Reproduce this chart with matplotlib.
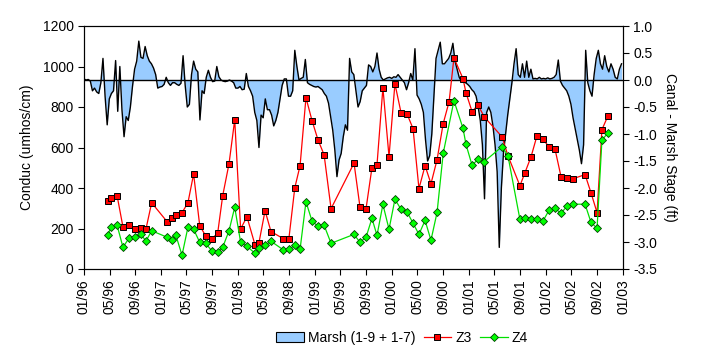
import numpy as np
import pandas as pd
import matplotlib
matplotlib.use("Agg")
import matplotlib.pyplot as plt
import matplotlib.dates as mdates
from matplotlib.patches import Patch
from matplotlib.lines import Line2D

plt.rcParams['font.family'] = ['Liberation Sans', 'DejaVu Sans']
plt.rcParams['axes.unicode_minus'] = False

# sampling dates of the conductivity stations
sample_dates = [
    '1996-04-22', '1996-05-08', '1996-06-06', '1996-07-04', '1996-08-01', '1996-08-30',
    '1996-09-27', '1996-10-21', '1996-11-17', '1997-01-29', '1997-02-21', '1997-03-12',
    '1997-04-10', '1997-05-08', '1997-06-04', '1997-07-03', '1997-07-31', '1997-08-29',
    '1997-09-26', '1997-10-20', '1997-11-19', '1997-12-16', '1998-01-13', '1998-02-12',
    '1998-03-22', '1998-04-10', '1998-05-09', '1998-06-06', '1998-08-03', '1998-08-30',
    '1998-09-27', '1998-10-22', '1998-11-19', '1998-12-18', '1999-01-15', '1999-02-13',
    '1999-03-18', '1999-07-05', '1999-08-02', '1999-08-31', '1999-09-28', '1999-10-22',
    '1999-11-19', '1999-12-18', '2000-01-15', '2000-02-13', '2000-03-12', '2000-04-10',
    '2000-05-08', '2000-06-06', '2000-07-04', '2000-08-02', '2000-08-31', '2000-09-28',
    '2000-10-21', '2000-12-03', '2000-12-17', '2001-01-15', '2001-02-12', '2001-03-13',
    '2001-06-06', '2001-07-04', '2001-08-30', '2001-09-23', '2001-10-22', '2001-11-19',
    '2001-12-17', '2002-01-15', '2002-02-12', '2002-03-13', '2002-04-10', '2002-05-09',
    '2002-07-05', '2002-08-02', '2002-08-31', '2002-09-23', '2002-10-22',
]

z3 = [337, 352, 362, 207, 219, 199, 202, 198, 327, 234,
      253, 268, 278, 327, 469, 214, 164, 150, 176, 362,
      520, 737, 198, 258, 120, 130, 288, 185, 150, 150,
      401, 510, 846, 732, 638, 564, 298, 523, 308, 298,
      500, 515, 895, 555, 915, 772, 767, 693, 397, 510,
      421, 540, 718, 826, 1043, 940, 871, 777, 811, 752,
      653, 560, 411, 476, 555, 658, 640, 604, 594, 456,
      451, 446, 466, 377, 278, 688, 757]

z4 = [166, 206, 216, 107, 152, 157, 171, 138, 189, 157,
      142, 166, 68, 206, 196, 132, 127, 90, 84, 107,
      189, 305, 132, 112, 78, 102, 117, 137, 95, 97,
      117, 97, 332, 236, 211, 216, 127, 171, 132, 157,
      250, 166, 319, 196, 344, 295, 283, 226, 171, 240,
      142, 280, 571, np.nan, 831, 695, 616, 512, 542, 530,
      604, 560, 245, 250, 245, 245, 236, 290, 300, 275,
      310, 320, 320, 231, 201, 636, 673]

# canal - marsh stage (ft), read every 10 days from 1996-01-01
marsh_start = '1996-01-01'
marsh = [
    0.02, 0.0, 0.01, -0.02, -0.2, -0.15, -0.22, -0.25, -0.05, 0.4,
    -0.3, -0.83, -0.35, -0.25, -0.2, 0.36, -0.58, 0.25, -0.55, -1.05,
    -0.68, -0.75, -0.5, -0.12, 0.2, 0.35, 0.72, 0.42, 0.4, 0.62,
    0.45, 0.35, 0.3, 0.22, 0.1, -0.15, -0.13, -0.12, -0.08, 0.05,
    -0.05, -0.1, -0.05,
    -0.05, -0.08, -0.1, -0.06, 0.45, -0.1, -0.5, -0.45, 0.1, 0.35,
    0.2, 0.15, -0.74, -0.2, -0.25, 0.05, 0.18, 0.05, -0.03, -0.02,
    0.25, 0.06, 0.0, -0.02, -0.03, -0.02, 0.0, -0.02, -0.05, -0.15,
    -0.15, -0.12, -0.18, -0.17, 0.12, -0.12, -0.2, -0.3, -0.6, -0.75,
    -1.25, -0.65, -0.7,
    -0.35, -0.55, -0.55, -0.65, -0.85, -0.75, -0.6, -0.35, -0.1, 0.02,
    0.02, -0.3, -0.3, -0.2, 0.55, 0.25, 0.0, 0.03, 0.05, 0.38,
    -0.05, -0.08, -0.1, -0.12, -0.13, -0.12, -0.15, -0.18, -0.25, -0.3,
    -0.43, -0.68, -0.93, -1.3, -1.79, -1.48, -1.36, -1.05, -0.83, -0.93,
    0.4, 0.15, 0.1,
    -0.2, -0.5, -0.4, -0.2, -0.15, -0.1, 0.28, 0.25, 0.15, 0.25,
    0.5, 0.2, 0.05, 0.0, 0.02, 0.04, 0.05, 0.03, 0.06, 0.05,
    0.1, 0.05, 0.0, -0.05, -0.18, -0.05, 0.12, 0.0, 0.58, -0.28,
    -0.35, -0.45, -0.6, -1.1, -1.5, -1.4, -1.0, -0.3, 0.4, 0.55,
    0.7, 0.3,
    0.3, 0.35, 0.4, 0.5, 0.68, 0.35, 0.2, 0.05, -0.02, -0.03,
    -0.05, -0.08, -0.12, -0.18, -0.22, -0.3, -0.5, -0.75, -1.2, -2.2,
    -0.6, -0.5, -0.6, -0.85, -1.2, -1.7, -3.1, -2.0, -1.35, -1.0,
    -0.65, -0.35, -0.05, 0.3, 0.58, 0.1, 0.05, 0.3, 0.05, 0.35,
    0.05, 0.2,
    0.02, 0.03, 0.02, 0.05, 0.02, 0.03, 0.02, 0.04, 0.02, 0.03,
    0.05, 0.1, 0.37, -0.02, -0.1, -0.15, -0.2, -0.3, -0.45, -0.7,
    -0.9, -1.1, -1.3, -1.55, -1.2, 0.55, -0.05, -0.2, -0.3, 0.1,
    0.4, 0.55, 0.3, 0.2, 0.45, 0.25, 0.15, 0.3, 0.2, 0.05,
    0.02, 0.2, 0.3,
]

dates = pd.to_datetime(sample_dates)
marsh_dates = pd.date_range(marsh_start, periods=len(marsh), freq='10D')
z4 = np.array(z4, dtype=float)
ok = ~np.isnan(z4)

fig = plt.figure(figsize=(7.05, 3.52), dpi=100)
ax = fig.add_axes([84 / 705, 1 - 269 / 352, 539 / 705, 243 / 352])
ax2 = ax.twinx()

# marsh stage as area on secondary axis
ax2.fill_between(marsh_dates, marsh, 0, color='#99CCFF', linewidth=0)
ax2.plot(marsh_dates, marsh, color='black', lw=1.0)
ax2.axhline(0, color='black', lw=1.0)
ax2.set_ylim(-3.5, 1.0)
ax2.set_yticks(np.arange(-3.5, 1.01, 0.5))
ax2.set_yticklabels(['%.1f' % v for v in np.arange(-3.5, 1.01, 0.5)])
ax2.set_ylabel('Canal - Marsh Stage (ft)', rotation=270, labelpad=14, fontsize=10)

ax.set_zorder(ax2.get_zorder() + 1)
ax.patch.set_visible(False)
ax.plot(dates, z3, color='red', lw=0.9, marker='s', ms=5,
        mfc='red', mec='black', mew=0.7)
ax.plot(dates[ok], z4[ok], color='#00E000', lw=0.9, marker='D', ms=4.5,
        mfc='#00FF00', mec='#004000', mew=0.6)
ax.set_ylim(0, 1200)
ax.set_yticks(range(0, 1201, 200))
ax.set_ylabel('Conduc (umhos/cm)', fontsize=10, labelpad=6)

ax.set_xlim(pd.Timestamp('1996-01-01'), pd.Timestamp('2003-01-01'))
ax.xaxis.set_major_locator(mdates.MonthLocator(bymonth=[1, 5, 9]))
ax.xaxis.set_major_formatter(mdates.DateFormatter('%m/%y'))
for lab in ax.get_xticklabels():
    lab.set_rotation(90)

for a in (ax, ax2):
    a.tick_params(direction='out', length=4, width=0.8, labelsize=10, color='black')
    for s in a.spines.values():
        s.set_linewidth(0.8)

handles = [
    Patch(facecolor='#99CCFF', edgecolor='black', linewidth=0.8),
    Line2D([], [], color='red', lw=0.9, marker='s', ms=5, mfc='red', mec='black', mew=0.7),
    Line2D([], [], color='#00E000', lw=0.9, marker='D', ms=4.5, mfc='#00FF00', mec='#004000', mew=0.6),
]
fig.legend(handles, ['Marsh (1-9 + 1-7)', 'Z3', 'Z4'], loc='center',
           bbox_to_anchor=(402 / 705, 1 - 338 / 352), ncol=3, frameon=False,
           fontsize=10, handlelength=2.0, handletextpad=0.3, columnspacing=0.6)

fig.savefig('out.png', dpi=100)
